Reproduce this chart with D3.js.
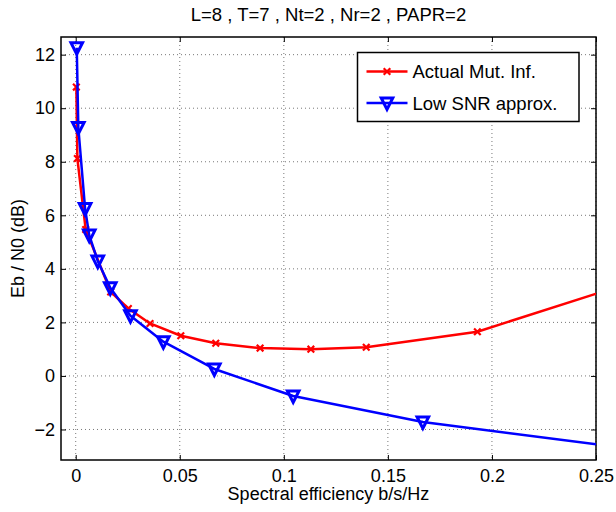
<!DOCTYPE html>
<html><head><meta charset="utf-8">
<script src="https://cdn.jsdelivr.net/npm/d3@7"></script>
<style>body{margin:0;background:#fff}svg{display:block;font-family:"Liberation Sans",Arial,sans-serif}</style>
</head><body><svg id="c" width="616" height="512"></svg>
<script>
const titleText = "L=8 , T=7 , Nt=2 , Nr=2 , PAPR=2";
const xLabel = "Spectral efficiency b/s/Hz";
const yLabel = "Eb / N0 (dB)";
const seriesNames = ["Actual Mut. Inf.", "Low SNR approx."];
const xTicks = [0, 0.05, 0.1, 0.15, 0.2, 0.25];
const yTicks = [-2, 0, 2, 4, 6, 8, 10, 12];
const actualX = [0.0003, 0.0008, 0.0048, 0.0168, 0.0253, 0.0357, 0.0505, 0.0673, 0.0886, 0.113, 0.1396, 0.193, 0.27];
const actualY = [10.79, 8.12, 5.47, 3.14, 2.52, 1.96, 1.5, 1.22, 1.04, 1.0, 1.07, 1.65, 3.57];
const approxX = [0.0005, 0.00125, 0.0045, 0.0065, 0.0106, 0.0166, 0.0263, 0.0421, 0.0666, 0.1045, 0.1668, 0.265];
const approxY = [12.26, 9.28, 6.25, 5.26, 4.29, 3.29, 2.25, 1.28, 0.26, -0.75, -1.72, -2.7];

const svg = d3.select("#c");
const L = 61, R = 596, T = 37, B = 460;
const x = d3.scaleLinear().domain([-0.00707, 0.25]).range([L, R]);
const y = d3.scaleLinear().domain([-3.14, 12.66]).range([B, T]);
const FS = 18;

svg.append("defs").append("clipPath").attr("id","clip").append("rect")
  .attr("x", L).attr("y", T).attr("width", R-L).attr("height", B-T);

// grid
const g = svg.append("g");
g.selectAll(".gx").data(xTicks).join("line")
  .attr("x1", d=>x(d)).attr("x2", d=>x(d)).attr("y1", T).attr("y2", B)
  .attr("stroke","#555").attr("stroke-width",0.8).attr("stroke-dasharray","1,3");
g.selectAll(".gy").data(yTicks).join("line")
  .attr("y1", d=>y(d)).attr("y2", d=>y(d)).attr("x1", L).attr("x2", R)
  .attr("stroke","#555").attr("stroke-width",0.8).attr("stroke-dasharray","1,3");

// axes via d3 axis (ticks inward)
const axB = svg.append("g").attr("transform",`translate(0,${B})`)
  .call(d3.axisBottom(x).tickValues(xTicks).tickSizeInner(-5).tickSizeOuter(0).tickPadding(9).tickFormat(d=>d===0?"0":d3.format("")(d)));
const axT = svg.append("g").attr("transform",`translate(0,${T})`)
  .call(d3.axisTop(x).tickValues(xTicks).tickSizeInner(-5).tickSizeOuter(0).tickFormat(""));
const axL = svg.append("g").attr("transform",`translate(${L},0)`)
  .call(d3.axisLeft(y).tickValues(yTicks).tickSizeInner(-5).tickSizeOuter(0).tickPadding(6).tickFormat(d=>d<0?"\u2212"+Math.abs(d):d));
const axR = svg.append("g").attr("transform",`translate(${R},0)`)
  .call(d3.axisRight(y).tickValues(yTicks).tickSizeInner(-5).tickSizeOuter(0).tickFormat(""));
[axB,axT,axL,axR].forEach(a=>{
  a.select(".domain").remove();
  a.selectAll("line").attr("stroke","#000").attr("stroke-width",1);
  a.selectAll("text").attr("font-size",FS).attr("fill","#000").attr("font-family","Liberation Sans, Arial, sans-serif");
});
svg.append("rect").attr("x",L).attr("y",T).attr("width",R-L).attr("height",B-T)
  .attr("fill","none").attr("stroke","#000").attr("stroke-width",1.5);

// data
const plot = svg.append("g").attr("clip-path","url(#clip)");
const line = d3.line().x(d=>x(d[0])).y(d=>y(d[1]));
const actual = actualX.map((v,i)=>[v, actualY[i]]);
const approx = approxX.map((v,i)=>[v, approxY[i]]);

function drawSeries(data, color, marker){
  plot.append("path").datum(data).attr("d", line).attr("fill","none")
    .attr("stroke", color).attr("stroke-width", 2.5).attr("stroke-linejoin","round");
  const m = plot.append("g");
  data.forEach(d=>drawMarker(m, x(d[0]), y(d[1]), color, marker));
}
function drawMarker(sel, cx, cy, color, marker){
  if(marker==="x"){
    const s = 3.3;
    sel.append("path").attr("d",`M${cx-s},${cy-s}L${cx+s},${cy+s}M${cx-s},${cy+s}L${cx+s},${cy-s}`)
      .attr("stroke", color).attr("stroke-width", 2.2).attr("fill","none");
  } else {
    const w = 5.8, h = 5;
    sel.append("path").attr("d",`M${cx-w},${cy-h}L${cx+w},${cy-h}L${cx},${cy+h+1.5}Z`)
      .attr("stroke", color).attr("stroke-width", 3).attr("fill","none").attr("stroke-linejoin","miter");
  }
}
drawSeries(actual, "#ff0000", "x");
drawSeries(approx, "#0000ff", "v");

// legend
const lg = svg.append("g");
lg.append("rect").attr("x",357.5).attr("y",52.5).attr("width",221.5).attr("height",69)
  .attr("fill","#fff").attr("stroke","#000").attr("stroke-width",1.5);
const rows = [{c:"#ff0000", m:"x", yy:71.5},{c:"#0000ff", m:"v", yy:103}];
rows.forEach((r,i)=>{
  lg.append("line").attr("x1",366.5).attr("x2",407.5).attr("y1",r.yy).attr("y2",r.yy)
    .attr("stroke",r.c).attr("stroke-width",2.5);
  drawMarker(lg, 387, r.yy, r.c, r.m);
  lg.append("text").attr("x",412.5).attr("y",r.yy+6.5).attr("font-size",FS+0.5).text(seriesNames[i]);
});

// titles
svg.append("text").attr("x",(L+R)/2).attr("y",21).attr("text-anchor","middle").attr("font-size",FS+0.5).text(titleText);
svg.append("text").attr("x",(L+R)/2).attr("y",500).attr("text-anchor","middle").attr("font-size",FS).text(xLabel);
svg.append("text").attr("transform",`translate(24,${(T+B)/2}) rotate(-90)`).attr("text-anchor","middle").attr("font-size",FS).text(yLabel);
</script></body></html>
